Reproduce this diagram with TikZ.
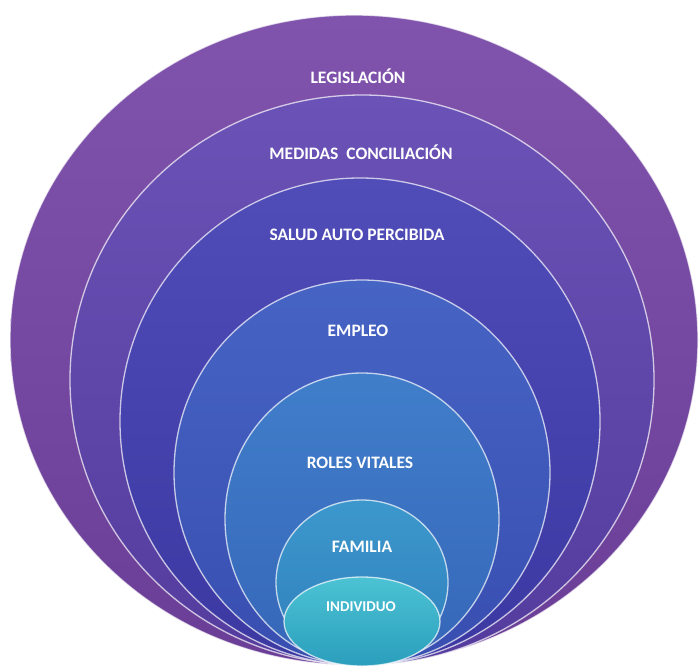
\documentclass[tikz,border=0pt]{standalone}
\usepackage{fontspec}
\setmainfont{Carlito}
\begin{document}
\begin{tikzpicture}[x=1pt,y=-1pt,
  ring/.style={draw=white,draw opacity=0.7,line width=1.3pt},
  lbl/.style={text=white,font=\fontsize{17.5}{19}\selectfont\bfseries,inner sep=0pt},
  lblsmall/.style={lbl,font=\fontsize{15}{17}\selectfont\bfseries}]
\useasboundingbox (0,0) rectangle (700,669);
\fill[white] (0,0) rectangle (700,669);
% nested rings, all resting on a common bottom point
\shade[ring,top color={rgb,255:red,128;green,84;blue,172},bottom color={rgb,255:red,106;green,62;blue,150}]
  (354,340) ellipse [x radius=344pt,y radius=325pt];
\shade[ring,top color={rgb,255:red,106;green,82;blue,182},bottom color={rgb,255:red,84;green,60;blue,158}]
  (362,380) ellipse [x radius=292pt,y radius=285pt];
\shade[ring,top color={rgb,255:red,80;green,76;blue,184},bottom color={rgb,255:red,60;green,56;blue,162}]
  (360,421.5) ellipse [x radius=240pt,y radius=243.5pt];
\shade[ring,top color={rgb,255:red,70;green,100;blue,196},bottom color={rgb,255:red,56;green,78;blue,176}]
  (362,472.5) ellipse [x radius=188pt,y radius=192.5pt];
\shade[ring,top color={rgb,255:red,64;green,126;blue,202},bottom color={rgb,255:red,54;green,102;blue,184}]
  (362,519) ellipse [x radius=137pt,y radius=146pt];
\shade[ring,top color={rgb,255:red,60;green,152;blue,204},bottom color={rgb,255:red,48;green,126;blue,188}]
  (362,582.5) ellipse [x radius=86pt,y radius=82.5pt];
\shade[ring,top color={rgb,255:red,76;green,194;blue,212},bottom color={rgb,255:red,42;green,158;blue,188}]
  (362,621.5) ellipse [x radius=78pt,y radius=44.5pt];
% labels
\node[lbl] (legis) at (358,76) {LEGISLACIÓN};
\node[lbl] (medidas) at (361,152) {MEDIDAS\ \ CONCILIACIÓN};
\node[lbl] (salud) at (357,235) {SALUD AUTO PERCIBIDA};
\node[lbl] (empleo) at (358,331) {EMPLEO};
\node[lbl] (roles) at (360,463) {ROLES VITALES};
\node[lbl] (familia) at (362,547) {FAMILIA};
\node[lblsmall] (indiv) at (361,607) {INDIVIDUO};
\end{tikzpicture}
\end{document}
